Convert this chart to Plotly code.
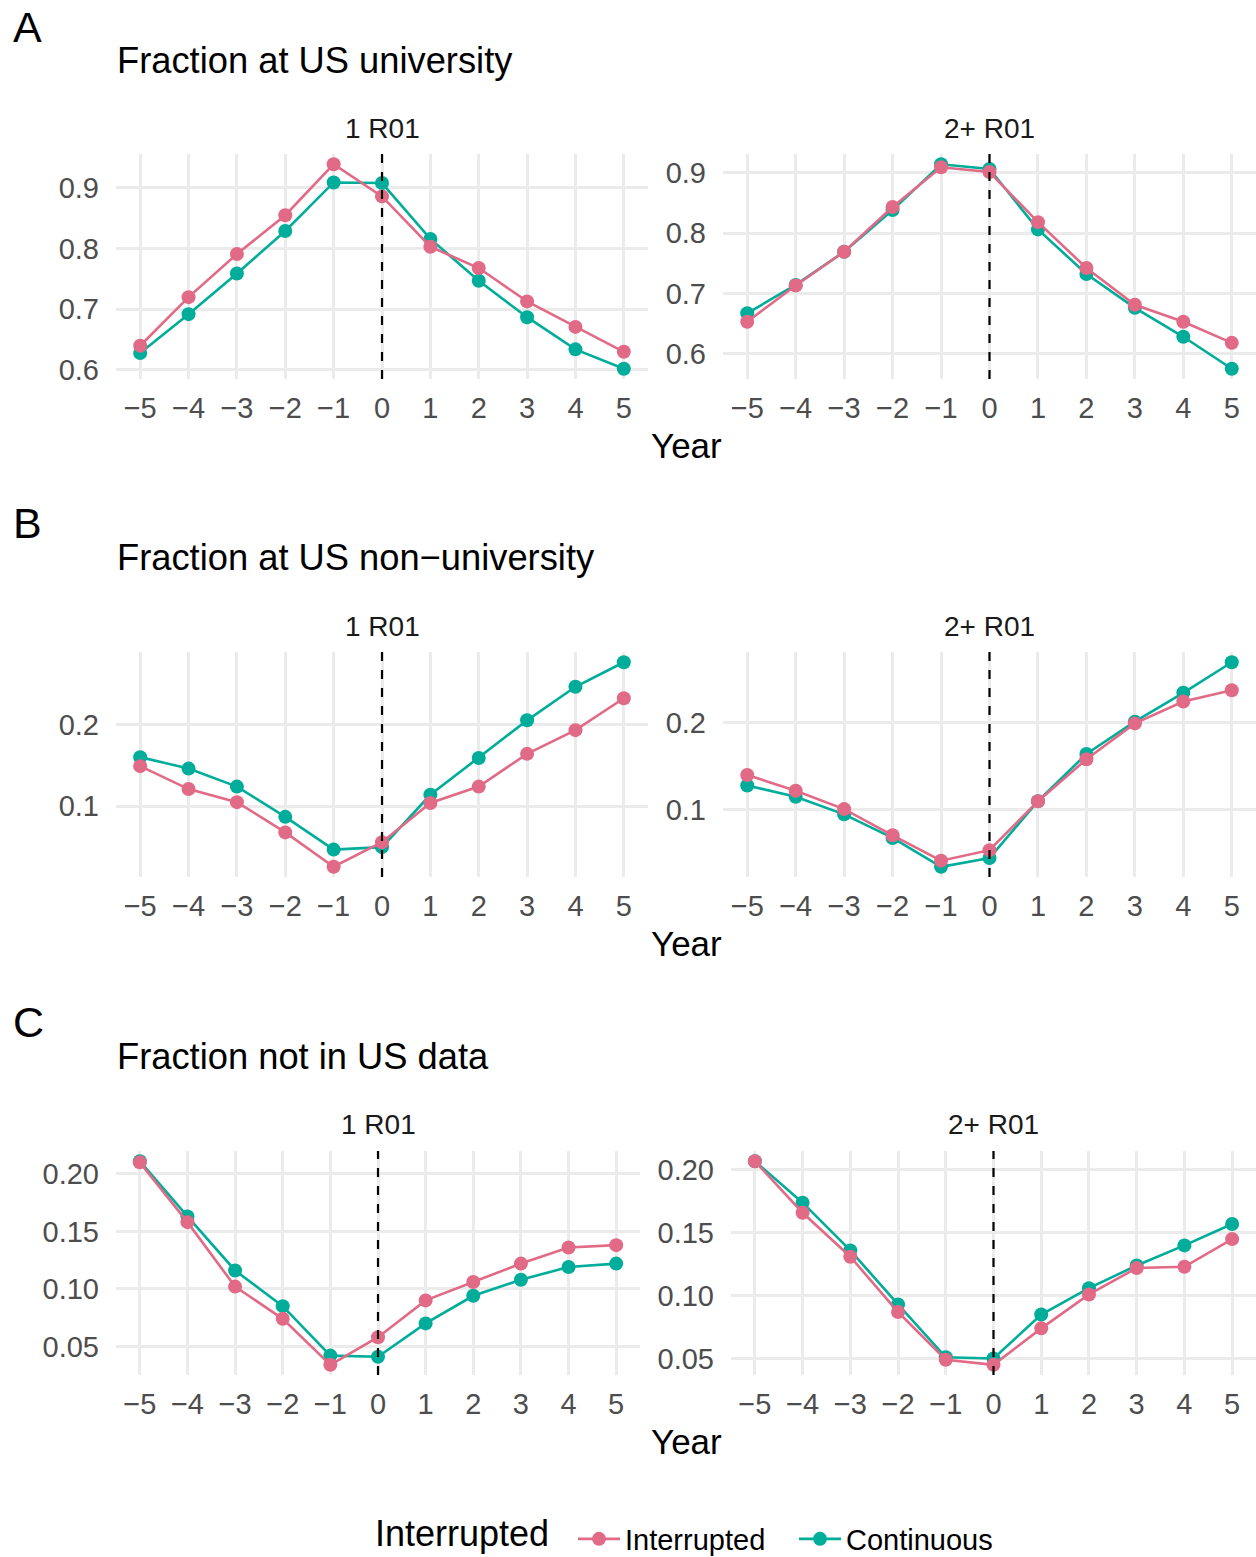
import plotly.graph_objects as go

W, H = 1256, 1557

years = [-5, -4, -3, -2, -1, 0, 1, 2, 3, 4, 5]
x_tick_labels = ["\u22125", "\u22124", "\u22123", "\u22122", "\u22121", "0", "1", "2", "3", "4", "5"]

# Panel A: Fraction at US university
uni_1_int = [0.640, 0.720, 0.791, 0.855, 0.939, 0.886, 0.803, 0.768, 0.713, 0.671, 0.630]
uni_1_cont = [0.628, 0.692, 0.759, 0.829, 0.909, 0.908, 0.816, 0.747, 0.687, 0.634, 0.602]
uni_2_int = [0.653, 0.713, 0.769, 0.843, 0.909, 0.901, 0.818, 0.742, 0.681, 0.653, 0.618]
uni_2_cont = [0.667, 0.714, 0.769, 0.838, 0.914, 0.906, 0.806, 0.732, 0.676, 0.628, 0.575]

# Panel B: Fraction at US non-university
non_1_int = [0.149, 0.121, 0.105, 0.068, 0.026, 0.056, 0.104, 0.124, 0.164, 0.193, 0.232]
non_1_cont = [0.160, 0.146, 0.124, 0.087, 0.047, 0.050, 0.114, 0.159, 0.205, 0.246, 0.276]
non_2_int = [0.140, 0.122, 0.101, 0.071, 0.042, 0.054, 0.110, 0.158, 0.199, 0.224, 0.237]
non_2_cont = [0.128, 0.115, 0.095, 0.068, 0.035, 0.045, 0.110, 0.164, 0.201, 0.234, 0.269]

# Panel C: Fraction not in US data
out_1_int = [0.210, 0.158, 0.102, 0.074, 0.034, 0.058, 0.090, 0.106, 0.122, 0.136, 0.138]
out_1_cont = [0.211, 0.163, 0.116, 0.085, 0.042, 0.041, 0.070, 0.094, 0.108, 0.119, 0.122]
out_2_int = [0.207, 0.166, 0.131, 0.087, 0.049, 0.045, 0.074, 0.101, 0.122, 0.123, 0.145]
out_2_cont = [0.207, 0.174, 0.136, 0.093, 0.051, 0.050, 0.085, 0.106, 0.124, 0.140, 0.157]

series_names = ["Interrupted", "Continuous"]
panel_tags = ["A", "B", "C"]
panel_titles = ["Fraction at US university", "Fraction at US non\u2212university", "Fraction not in US data"]
facet_labels = ["1 R01", "2+ R01"]
x_title = "Year"
legend_title = "Interrupted"

COL_INT = "#E16A86"
COL_CONT = "#00AD9A"
FONT = "Liberation Sans, Arial, Helvetica, sans-serif"
TICK_COL = "#4D4D4D"
GRID_COL = "#EBEBEB"

rows = [
    dict(tag_y=27, title_y=61, strip_y=128, year_y=446, ytop=154, ybot=379,
         boxes=[(116, 648), (723, 1256)], dtick=0.1, fmt=".1f",
         data=[(uni_1_int, uni_1_cont), (uni_2_int, uni_2_cont)]),
    dict(tag_y=523, title_y=557, strip_y=626, year_y=943, ytop=652, ybot=877,
         boxes=[(116, 648), (723, 1256)], dtick=0.1, fmt=".1f",
         data=[(non_1_int, non_1_cont), (non_2_int, non_2_cont)]),
    dict(tag_y=1022, title_y=1056, strip_y=1124, year_y=1441, ytop=1151, ybot=1375,
         boxes=[(116, 640), (731, 1256)], dtick=0.05, fmt=".2f",
         data=[(out_1_int, out_1_cont), (out_2_int, out_2_cont)]),
]

def px_x(p):
    return p / W

def px_y(p):
    return 1 - p / H

fig = go.Figure()
layout = {}
annotations = []
shapes = []
idx = 0
for r, row in enumerate(rows):
    annotations.append(dict(text=panel_tags[r], x=px_x(11), y=px_y(row["tag_y"]), xref="paper", yref="paper",
                            xanchor="left", yanchor="middle", showarrow=False,
                            font=dict(family=FONT, size=43, color="black")))
    annotations.append(dict(text=panel_titles[r], x=px_x(115), y=px_y(row["title_y"]), xref="paper", yref="paper",
                            xanchor="left", yanchor="middle", showarrow=False,
                            font=dict(family=FONT, size=36.3, color="black")))
    annotations.append(dict(text=x_title, x=px_x(686), y=px_y(row["year_y"]), xref="paper", yref="paper",
                            xanchor="center", yanchor="middle", showarrow=False,
                            font=dict(family=FONT, size=35, color="black")))
    for c in range(2):
        idx += 1
        sfx = "" if idx == 1 else str(idx)
        x0, x1 = row["boxes"][c]
        yi, yc = row["data"][c]
        lo = min(min(yi), min(yc))
        hi = max(max(yi), max(yc))
        pad = (hi - lo) * 0.05
        layout["xaxis" + sfx] = dict(
            domain=[px_x(x0), min(1.0, px_x(x1))], anchor="y" + sfx,
            range=[-5.5, 5.5], tickvals=years, ticktext=x_tick_labels,
            showgrid=True, gridcolor=GRID_COL, gridwidth=3.2, zeroline=False,
            showline=False, ticks="", ticklabelstandoff=9,
            tickfont=dict(family=FONT, size=29, color=TICK_COL))
        layout["yaxis" + sfx] = dict(
            domain=[px_y(row["ybot"]), px_y(row["ytop"])], anchor="x" + sfx,
            range=[lo - pad, hi + pad], tickmode="linear", tick0=0, dtick=row["dtick"],
            tickformat=row["fmt"],
            showgrid=True, gridcolor=GRID_COL, gridwidth=3.2, zeroline=False,
            showline=False, ticks="", ticklabelstandoff=16,
            tickfont=dict(family=FONT, size=29, color=TICK_COL))
        annotations.append(dict(text=facet_labels[c], x=px_x((x0 + x1) / 2), y=px_y(row["strip_y"]),
                                xref="paper", yref="paper", xanchor="center", yanchor="middle",
                                showarrow=False, font=dict(family=FONT, size=28, color="#1A1A1A")))
        shapes.append(dict(type="line", xref="x" + sfx, yref="y" + sfx + " domain",
                           x0=0, x1=0, y0=0, y1=1,
                           line=dict(color="black", width=2.2, dash="dash")))
        for name, vals, col, rank in [(series_names[1], yc, COL_CONT, 2), (series_names[0], yi, COL_INT, 1)]:
            fig.add_trace(go.Scatter(
                x=years, y=vals, mode="lines+markers", name=name,
                line=dict(color=col, width=2.6), marker=dict(color=col, size=14),
                xaxis="x" + sfx, yaxis="y" + sfx, showlegend=(idx == 1), legendrank=rank))

# legend title drawn as text beside the legend entries
annotations.append(dict(text=legend_title, x=px_x(462), y=0.0005, xref="paper", yref="paper",
                        xanchor="center", yanchor="bottom", showarrow=False,
                        font=dict(family=FONT, size=36, color="black")))

fig.update_layout(
    width=W, height=H, margin=dict(l=0, r=0, t=0, b=0, autoexpand=False),
    paper_bgcolor="white", plot_bgcolor="white",
    annotations=annotations, shapes=shapes,
    legend=dict(orientation="h", x=px_x(573), xanchor="left", y=px_y(1539), yanchor="middle",
                font=dict(family=FONT, size=29, color="black"), itemwidth=42,
                entrywidth=164, entrywidthmode="pixels"),
    **layout)

fig.write_html("out.html")
